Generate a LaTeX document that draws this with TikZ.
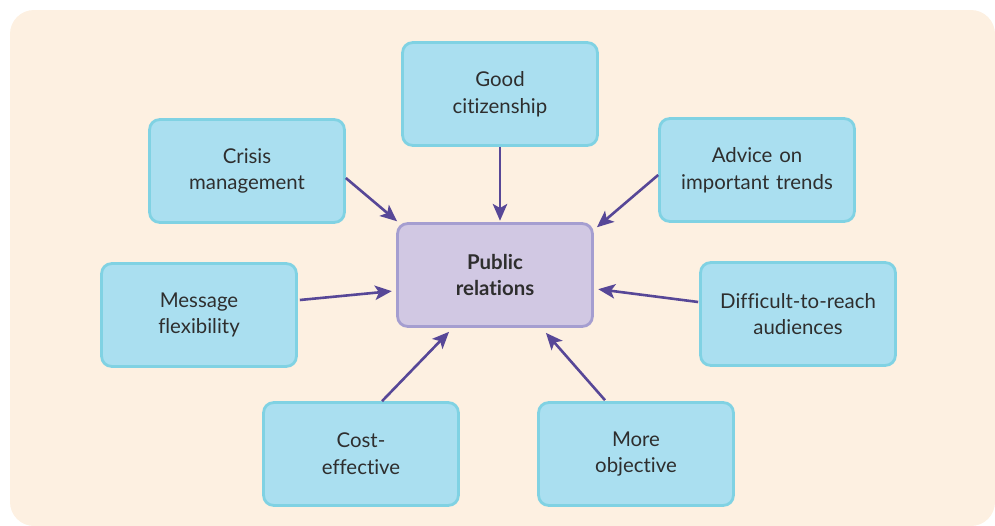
\documentclass[tikz,border=0pt]{standalone}
\usepackage{fontspec}
\setmainfont{Lato}[Ligatures=NoCommon]
\usetikzlibrary{arrows.meta,calc}
\definecolor{bgcream}{HTML}{FDF0E1}
\definecolor{boxcyan}{HTML}{AADFF0}
\definecolor{boxcyanline}{HTML}{80D2E3}
\definecolor{prfill}{HTML}{D1C8E3}
\definecolor{prline}{HTML}{A59ED0}
\definecolor{arrowpurple}{HTML}{574797}
\definecolor{textgray}{HTML}{2E2E2E}

\begin{document}
\begin{tikzpicture}[x=0.025cm, y=-0.025cm,
    factor/.style={rectangle, rounded corners=0.25cm, draw=boxcyanline, fill=boxcyan, line width=0.07cm,
      minimum width=4.87cm, minimum height=2.57cm, text width=4.4cm, align=center, text=textgray,
      font=\fontsize{14.5}{19}\selectfont},
    hub/.style={factor, draw=prline, fill=prfill, font=\fontsize{14.5}{19}\selectfont\bfseries},
    link/.style={-{Stealth[length=0.42cm, width=0.36cm, inset=0.1cm]}, arrowpurple, line width=0.065cm, shorten >=1pt}]
  \useasboundingbox (0,0) rectangle (995,526);
  \fill[bgcream, rounded corners=0.6cm] (10,10) rectangle (995,526);

  \node (pr) [hub] at (495,275) {Public\\ relations};
  \node (good) [factor] at (500,94) {Good\\ citizenship};
  \node (crisis) [factor] at (247,171) {Crisis\\ management};
  \node (advice) [factor] at (757,170) {Advice on\\ important trends};
  \node (message) [factor] at (199,315) {Message\\ flexibility};
  \node (reach) [factor] at (798,314) {Difficult-to-reach\\ audiences};
  \node (cost) [factor] at (361,454) {Cost-\\ effective};
  \node (objective) [factor] at (636,454) {More\\ objective};

  \draw[link] ($(crisis.east)+(0,7)$) -- ($(pr.north west)+(2,0)$);
  \draw[link] (good.south -| 500,0) -- (pr.north -| 500,0);
  \draw[link] ($(advice.west)+(0,5)$) -- ($(pr.north east)+(2,6)$);
  \draw[link] ($(message.east)+(2,-15)$) -- ($(pr.west)+(-3,16)$);
  \draw[link] ($(reach.west)+(-1,-12)$) -- ($(pr.east)+(3,14)$);
  \draw[link] ($(cost.north)+(21,0)$) -- ($(pr.south)+(-45,3)$);
  \draw[link] ($(objective.north)+(-31,-1)$) -- ($(pr.south)+(50,4)$);
\end{tikzpicture}
\end{document}
